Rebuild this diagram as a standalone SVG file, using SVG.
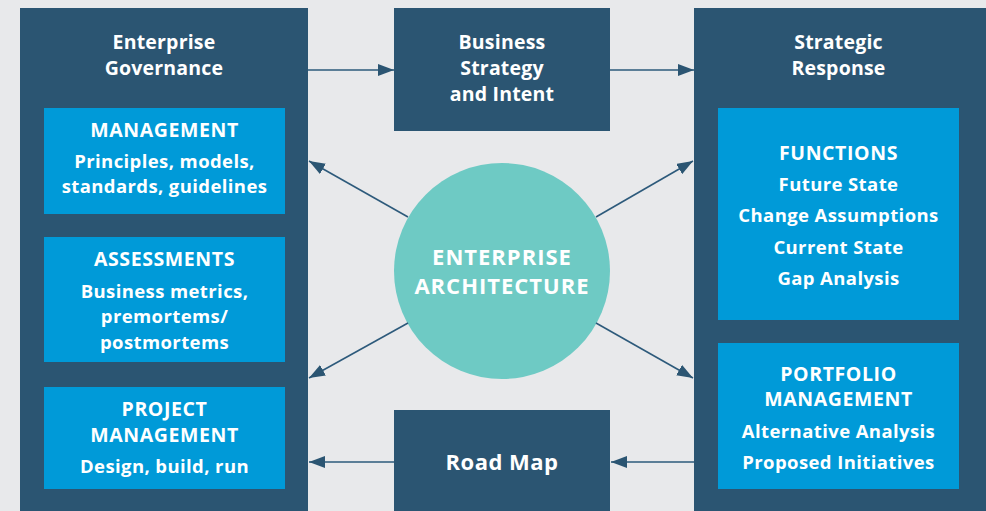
<svg xmlns="http://www.w3.org/2000/svg" width="986" height="511" viewBox="0 0 986 511">
<defs>
<style>
.bg{fill:#e8e9eb}
.dark{fill:#2b5572}
.blue{fill:#009ad8}
.circ{fill:#6ecac4}
text{font-family:"Open Sans",Lato,"Liberation Sans",sans-serif;font-weight:700;fill:#ffffff;text-anchor:middle}
.h{font-size:19.5px;letter-spacing:0.2px}
.t{font-size:18.5px;letter-spacing:0.4px}
.c{font-size:19.5px;letter-spacing:0.6px}
.big{font-size:22px;letter-spacing:1px}
.rm{font-size:22px;letter-spacing:0.5px}
.conn line{stroke:#2d5a7b;stroke-width:1.6;fill:none}
</style>
<marker id="ah" viewBox="0 0 16 12" refX="16" refY="6" markerWidth="16" markerHeight="12" markerUnits="userSpaceOnUse" orient="auto">
<path d="M0,0 L16,6 L0,12 Z" fill="#2b5572"/>
</marker>
</defs>
<rect class="bg" x="0" y="0" width="986" height="511"/>

<g id="enterprise-governance">
<rect class="dark" x="20" y="8" width="288" height="503"/>
<text class="h" x="164" y="49">Enterprise</text>
<text class="h" x="164" y="75">Governance</text>
</g>
<g id="management">
<rect class="blue" x="44" y="108" width="241" height="106"/>
<text class="c" x="164.5" y="137">MANAGEMENT</text>
<text class="t" x="164.5" y="168">Principles, models,</text>
<text class="t" x="164.5" y="193">standards, guidelines</text>
</g>
<g id="assessments">
<rect class="blue" x="44" y="237" width="241" height="125"/>
<text class="c" x="164.5" y="266">ASSESSMENTS</text>
<text class="t" x="164.5" y="298">Business metrics,</text>
<text class="t" x="164.5" y="323">premortems/</text>
<text class="t" x="164.5" y="349">postmortems</text>
</g>
<g id="project-management">
<rect class="blue" x="44" y="387" width="241" height="102"/>
<text class="c" x="164.5" y="416">PROJECT</text>
<text class="c" x="164.5" y="442">MANAGEMENT</text>
<text class="t" x="164.5" y="473">Design, build, run</text>
</g>

<g id="business-strategy">
<rect class="dark" x="394" y="8" width="216" height="123"/>
<text class="h" x="502" y="49">Business</text>
<text class="h" x="502" y="75">Strategy</text>
<text class="h" x="502" y="101">and Intent</text>
</g>

<g id="road-map">
<rect class="dark" x="394" y="410" width="216" height="101"/>
<text class="rm" x="502" y="470">Road Map</text>
</g>

<g id="enterprise-architecture">
<circle class="circ" cx="502" cy="271" r="108"/>
<text class="big" x="502" y="265">ENTERPRISE</text>
<text class="big" x="502" y="294">ARCHITECTURE</text>
</g>

<g id="strategic-response">
<rect class="dark" x="694" y="8" width="292" height="503"/>
<text class="h" x="838.5" y="49">Strategic</text>
<text class="h" x="838.5" y="75">Response</text>
</g>
<g id="functions">
<rect class="blue" x="718" y="108" width="241" height="212"/>
<text class="c" x="838.5" y="160">FUNCTIONS</text>
<text class="t" x="838.5" y="191">Future State</text>
<text class="t" x="838.5" y="222">Change Assumptions</text>
<text class="t" x="838.5" y="254">Current State</text>
<text class="t" x="838.5" y="285">Gap Analysis</text>
</g>
<g id="portfolio-management">
<rect class="blue" x="718" y="343" width="241" height="146"/>
<text class="c" x="838.5" y="381">PORTFOLIO</text>
<text class="c" x="838.5" y="406">MANAGEMENT</text>
<text class="t" x="838.5" y="438">Alternative Analysis</text>
<text class="t" x="838.5" y="469">Proposed Initiatives</text>
</g>

<g class="conn" id="connectors">
<line x1="308" y1="70" x2="394" y2="70" marker-end="url(#ah)"/>
<line x1="610" y1="70" x2="694" y2="70" marker-end="url(#ah)"/>
<line x1="408" y1="217" x2="309" y2="161" marker-end="url(#ah)"/>
<line x1="596" y1="217" x2="693" y2="161" marker-end="url(#ah)"/>
<line x1="408" y1="323" x2="309" y2="378" marker-end="url(#ah)"/>
<line x1="596" y1="323" x2="693" y2="378" marker-end="url(#ah)"/>
<line x1="394" y1="462" x2="309" y2="462" marker-end="url(#ah)"/>
<line x1="694" y1="462" x2="611" y2="462" marker-end="url(#ah)"/>
</g>
</svg>
